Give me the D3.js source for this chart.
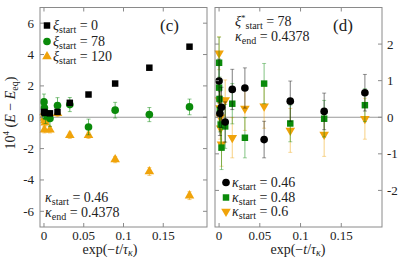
<!DOCTYPE html>
<html>
<head>
<meta charset="utf-8">
<script src="https://cdn.jsdelivr.net/npm/d3@7"></script>
<style>
  body { margin: 0; background: #fff; }
  text { font-family: "Liberation Serif", "DejaVu Serif", serif; fill: #222; }
</style>
</head>
<body>
<div id="chart"></div>
<script>
// Panel (c): energy difference for different xi_start
var cBlackX = [0, 0.001, 0.0075, 0.017, 0.0325, 0.056, 0.0895, 0.1325, 0.183];
var cBlackY = [0.34, 0.28, 0.25, 0.34, 0.92, 1.45, 2.15, 3.16, 4.5];
var cBlackE = [0.1, 0.1, 0.1, 0.1, 0.1, 0.1, 0.1, 0.1, 0.1];

var cGreenX = [0, 0.0005, 0.001, 0.002, 0.0075, 0.017, 0.0325, 0.056, 0.0895, 0.1325, 0.183];
var cGreenY = [0.98, 0.6, 0.35, 0.1, -0.08, 0.75, 0.81, -0.62, 0.45, 0.17, 0.66];
var cGreenE = [0.5, 0.5, 0.5, 0.5, 0.5, 0.5, 0.45, 0.5, 0.5, 0.45, 0.5];

var cOrangeX = [0, 0.0003, 0.0006, 0.001, 0.0015, 0.0005, 0.0075, 0.017, 0.0325, 0.056, 0.0895, 0.1325, 0.183];
var cOrangeY = [0.3, 0.12, -0.05, -0.2, -0.35, -0.8, -0.8, 0.25, -1.15, -1.15, -2.7, -3.46, -5.0];
var cOrangeE = [0.2, 0.2, 0.2, 0.2, 0.2, 0.2, 0.2, 0.2, 0.2, 0.2, 0.2, 0.25, 0.25];

// Panel (d): energy difference for different kappa_start
var dBlackX = [0, 0.001, 0.003, 0.0075, 0.0162, 0.0317, 0.0553, 0.0874, 0.129, 0.179];
var dBlackY = [0.99, 0.1, 0.27, -0.13, 0.76, 0.8, -0.61, 0.44, 0.16, 0.67];
var dBlackE = [0.6, 0.6, 0.55, 0.55, 0.55, 0.55, 0.5, 0.55, 0.5, 0.5];

var dGreenX = [0, 0, 0.0005, 0.001, 0.002, 0.003, 0.0075, 0.0162, 0.0317, 0.0553, 0.0874, 0.129, 0.179];
var dGreenY = [1.49, 0.81, 0.5, 0.2, -0.2, -0.83, -0.25, 0.37, -0.56, 0.92, -0.17, -0.04, 0.33];
var dGreenE = [0.7, 0.6, 0.6, 0.6, 0.6, 0.6, 0.6, 0.55, 0.55, 0.55, 0.5, 0.5, 0.45];

var dOrangeX = [0, 0.0005, 0.001, 0.0015, 0.002, 0.003, 0.0075, 0.0162, 0.0317, 0.0553, 0.0874, 0.129, 0.179];
var dOrangeY = [1.75, 0.47, 0.25, 0.0, -0.3, -0.74, 0.47, -0.56, 0.24, 0.3, -0.36, -0.47, -0.04];
var dOrangeE = [0.45, 0.6, 0.6, 0.6, 0.6, 0.6, 0.55, 0.55, 0.6, 0.6, 0.6, 0.6, 0.56];

var xTicks = [0, 0.05, 0.1, 0.15];
var xTickLabels = ["0", "0.05", "0.1", "0.15"];
var cYTicks = [-6, -4, -2, 0, 2, 4, 6];
var dYTicks = [-2, -1, 0, 1, 2];

var black = "#000000", green = "#0a8a0a", orange = "#f0a30a";
var frameColor = "#8a8a8a";

var width = 398, height = 258;
var svg = d3.select("#chart").append("svg")
    .attr("width", width)
    .attr("height", height);

function zip(xs, ys, es) {
    return xs.map(function(x, i) { return { x: x, y: ys[i], e: es[i] }; });
}

function drawPanel(opts) {
    var x = d3.scaleLinear().domain(opts.xDomain).range([opts.left, opts.right]);
    var y = d3.scaleLinear().domain(opts.yDomain).range([opts.bottom, opts.top]);
    var g = svg.append("g");

    // zero line
    g.append("line")
        .attr("x1", opts.left).attr("x2", opts.right)
        .attr("y1", y(0)).attr("y2", y(0))
        .attr("stroke", "#999").attr("stroke-width", 1);

    // series
    opts.series.forEach(function(s) {
        var data = zip(s.x, s.y, s.e);
        var sg = g.append("g");
        sg.selectAll("line.err").data(data).enter().append("line")
            .attr("class", "err")
            .attr("x1", function(d) { return x(d.x); })
            .attr("x2", function(d) { return x(d.x); })
            .attr("y1", function(d) { return y(d.y - d.e); })
            .attr("y2", function(d) { return y(d.y + d.e); })
            .attr("stroke", s.color).attr("stroke-opacity", s.errOpacity).attr("stroke-width", 1);
        sg.selectAll("line.capt").data(data).enter().append("line")
            .attr("x1", function(d) { return x(d.x) - 2; })
            .attr("x2", function(d) { return x(d.x) + 2; })
            .attr("y1", function(d) { return y(d.y + d.e); })
            .attr("y2", function(d) { return y(d.y + d.e); })
            .attr("stroke", s.color).attr("stroke-opacity", s.errOpacity).attr("stroke-width", 0.8);
        sg.selectAll("line.capb").data(data).enter().append("line")
            .attr("x1", function(d) { return x(d.x) - 2; })
            .attr("x2", function(d) { return x(d.x) + 2; })
            .attr("y1", function(d) { return y(d.y - d.e); })
            .attr("y2", function(d) { return y(d.y - d.e); })
            .attr("stroke", s.color).attr("stroke-opacity", s.errOpacity).attr("stroke-width", 0.8);
        sg.selectAll("path.pt").data(data).enter().append("path")
            .attr("d", d3.symbol().type(s.symbol).size(s.size))
            .attr("transform", function(d) {
                return "translate(" + x(d.x) + "," + y(d.y) + ")" + (s.flip ? " rotate(180)" : "");
            })
            .attr("fill", s.color);
    });

    // frame
    g.append("rect")
        .attr("x", opts.left).attr("y", opts.top)
        .attr("width", opts.right - opts.left).attr("height", opts.bottom - opts.top)
        .attr("fill", "none").attr("stroke", frameColor).attr("stroke-width", 1);

    // ticks (inward, all four sides)
    var tl = 4;
    xTicks.forEach(function(t) {
        g.append("line").attr("x1", x(t)).attr("x2", x(t))
            .attr("y1", opts.bottom).attr("y2", opts.bottom - tl).attr("stroke", frameColor);
        g.append("line").attr("x1", x(t)).attr("x2", x(t))
            .attr("y1", opts.top).attr("y2", opts.top + tl).attr("stroke", frameColor);
    });
    g.selectAll("text.xt").data(xTicks).enter().append("text")
        .attr("x", function(d) { return x(d); })
        .attr("y", opts.bottom + 13)
        .attr("text-anchor", "middle")
        .attr("font-size", 13)
        .text(function(d, i) { return xTickLabels[i]; });

    opts.yTicks.forEach(function(t) {
        g.append("line").attr("x1", opts.left).attr("x2", opts.left + tl)
            .attr("y1", y(t)).attr("y2", y(t)).attr("stroke", frameColor);
        g.append("line").attr("x1", opts.right).attr("x2", opts.right - tl)
            .attr("y1", y(t)).attr("y2", y(t)).attr("stroke", frameColor);
    });
    g.selectAll("text.yt").data(opts.yTicks).enter().append("text")
        .attr("x", opts.yLabelSide === "left" ? opts.left - 6 : opts.right + 5)
        .attr("y", function(d) { return y(d) + 4.5; })
        .attr("text-anchor", opts.yLabelSide === "left" ? "end" : "start")
        .attr("font-size", 13)
        .text(function(d) { return d < 0 ? "-" + Math.abs(d) : String(d); });

    // x label
    var xl = g.append("text")
        .attr("x", opts.xLabelX).attr("y", 254)
        .attr("text-anchor", "middle")
        .attr("font-size", 14);
    xl.append("tspan").text("exp(\u2212");
    xl.append("tspan").attr("font-style", "italic").text("t");
    xl.append("tspan").text("/");
    xl.append("tspan").attr("font-style", "italic").text("\u03c4");
    xl.append("tspan").attr("font-style", "italic").attr("font-size", 10).attr("dy", 2).text("\u03ba");
    xl.append("tspan").attr("dy", -2).text(")");

    return { x: x, y: y, g: g };
}

function legendLine(g, px, py, sym, color, flip, main, sub, rest, sup) {
    if (sym) {
        g.append("path")
            .attr("d", d3.symbol().type(sym.type).size(sym.size))
            .attr("transform", "translate(" + px + "," + (py - 4.5) + ")" + (flip ? " rotate(180)" : ""))
            .attr("fill", color);
    }
    var t = g.append("text")
        .attr("x", px + (sym ? 6 : 0)).attr("y", py)
        .attr("font-size", 14);
    t.append("tspan").attr("font-style", "italic").text(main);
    if (sup) {
        t.append("tspan").attr("font-size", 9).attr("dy", -5).text(sup);
        t.append("tspan").attr("font-size", 10).attr("dy", 8).text(sub);
    } else {
        t.append("tspan").attr("font-size", 10).attr("dy", 3).text(sub);
    }
    t.append("tspan").attr("dy", -3).text(" = " + rest);
}

var sq = { type: d3.symbolSquare, size: 42 };
var ci = { type: d3.symbolCircle, size: 46 };
var tr = { type: d3.symbolTriangle, size: 40 };

var pc = drawPanel({
    left: 40, right: 207, top: 7.5, bottom: 227,
    xDomain: [-0.005, 0.205], yDomain: [-7, 7],
    yTicks: cYTicks, yLabelSide: "left", xLabelX: 110,
    series: [
        { x: cOrangeX, y: cOrangeY, e: cOrangeE, color: orange, symbol: d3.symbolTriangle, size: 40, errOpacity: 0.7 },
        { x: cGreenX, y: cGreenY, e: cGreenE, color: green, symbol: d3.symbolCircle, size: 46, errOpacity: 0.6 },
        { x: cBlackX, y: cBlackY, e: cBlackE, color: black, symbol: d3.symbolSquare, size: 42, errOpacity: 0.6 }
    ]
});

var pd = drawPanel({
    left: 215, right: 382, top: 7.5, bottom: 227,
    xDomain: [-0.005, 0.2], yDomain: [-3, 3],
    yTicks: dYTicks, yLabelSide: "right", xLabelX: 298,
    series: [
        { x: dOrangeX, y: dOrangeY, e: dOrangeE, color: orange, symbol: d3.symbolTriangle, size: 40, flip: true, errOpacity: 0.5 },
        { x: dGreenX, y: dGreenY, e: dGreenE, color: green, symbol: d3.symbolSquare, size: 42, errOpacity: 0.5 },
        { x: dBlackX, y: dBlackY, e: dBlackE, color: black, symbol: d3.symbolCircle, size: 46, errOpacity: 0.5 }
    ]
});

// Panel (c) annotations
legendLine(svg, 47, 30, sq, black, false, "\u03be", "start", "0");
legendLine(svg, 47, 46, ci, green, false, "\u03be", "start", "78");
legendLine(svg, 47, 61, tr, orange, false, "\u03be", "start", "120");
legendLine(svg, 45, 202, null, null, false, "\u03ba", "start", "0.46");
legendLine(svg, 45, 217, null, null, false, "\u03ba", "end", "0.4378");
svg.append("text").attr("x", 160).attr("y", 31).attr("font-size", 17).text("(c)");

// y label
var yl = svg.append("text")
    .attr("transform", "translate(15,113) rotate(-90)")
    .attr("text-anchor", "middle")
    .attr("font-size", 14);
yl.append("tspan").text("10");
yl.append("tspan").attr("font-size", 9).attr("dy", -6).text("4");
yl.append("tspan").attr("dy", 6).text(" (");
yl.append("tspan").attr("font-style", "italic").text("E");
yl.append("tspan").text(" \u2212 ");
yl.append("tspan").attr("font-style", "italic").text("E");
yl.append("tspan").attr("font-size", 10).attr("dy", 3).text("eq");
yl.append("tspan").attr("dy", -3).text(")");

// Panel (d) annotations
legendLine(svg, 235, 26, null, null, false, "\u03be", "start", "78", "*");
legendLine(svg, 235, 41, null, null, false, "\u03ba", "end", "0.4378");
svg.append("text").attr("x", 333).attr("y", 31).attr("font-size", 17).text("(d)");
legendLine(svg, 226, 187, ci, black, false, "\u03ba", "start", "0.46");
legendLine(svg, 226, 202, sq, green, false, "\u03ba", "start", "0.48");
legendLine(svg, 226, 216, tr, orange, true, "\u03ba", "start", "0.6");
</script>
</body>
</html>
